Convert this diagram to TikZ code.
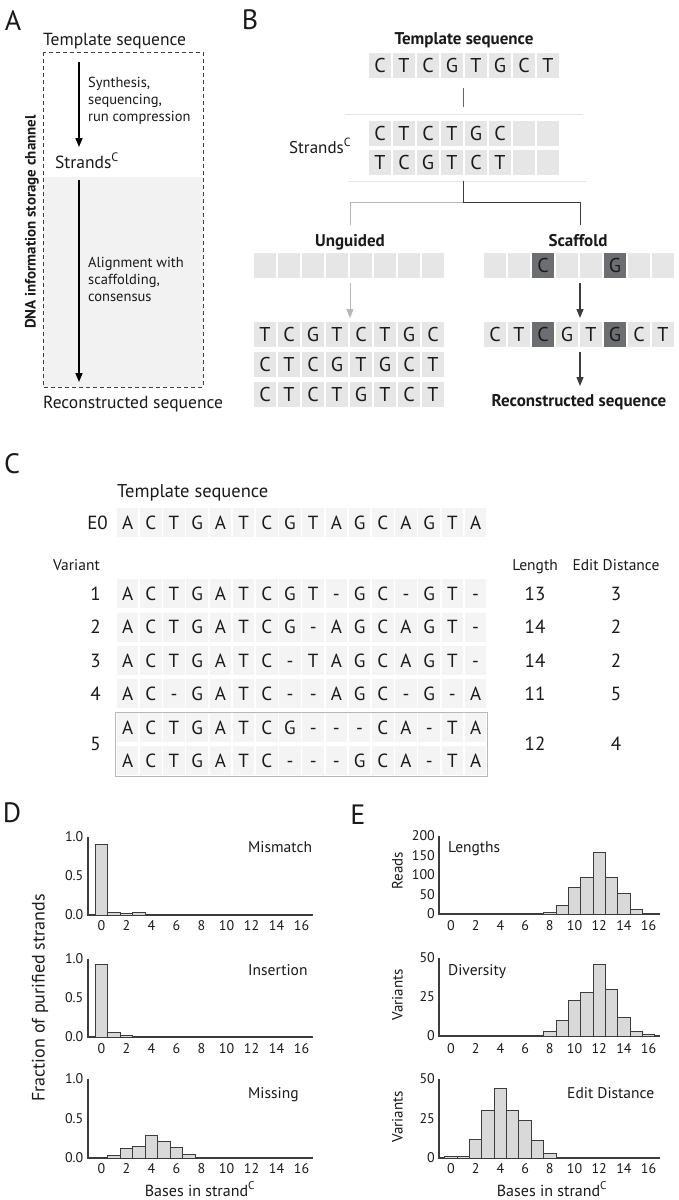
\documentclass[tikz,border=0pt]{standalone}
\usepackage{fontspec}
\setmainfont{PT Sans}
\usetikzlibrary{arrows.meta}
\definecolor{cellB}{HTML}{E6E6E6}
\definecolor{cellC}{HTML}{F4F4F4}
\definecolor{darkcell}{HTML}{6D6E71}
\definecolor{shadeA}{HTML}{F2F2F2}
\definecolor{lightline}{HTML}{B8B8B8}
\definecolor{sepline}{HTML}{E4E4E4}
\definecolor{axisgray}{HTML}{3C3C3C}
\definecolor{barfill}{HTML}{D9D9D9}
\definecolor{txt}{HTML}{1A1A1A}
\newcommand{\myfs}[1]{\fontsize{#1pt}{#1pt}\selectfont}
\newcommand{\brow}[4]{\foreach \L [count=\i from 0] in {#4}{\node[cellb] (#1\i) at ({#2+24*\i},#3) {\L};}}
\newcommand{\browd}[4]{\foreach \L/\f [count=\i from 0] in {#4}{\node[cellb,fill=\f] (#1\i) at ({#2+24*\i},#3) {\L};}}
\newcommand{\crow}[3]{\foreach \L [count=\i from 0] in {#3}{\node[cellc] (#1\i) at ({127.6+23.2*\i},#2) {\L};}}
\newcommand{\xticks}[4]{\foreach \v in {0,2,...,16}{\node[ticklbl] (#4\v) at ({#1+#2*\v},#3) {\v};}}
\newcommand{\bars}[5]{\foreach \v/\h in {#5}{\draw[bar] ({#1+#2*(\v-0.5)},#3) rectangle ({#1+#2*(\v+0.5)},{#3-#4*\h});}}
\begin{document}
\begin{tikzpicture}[x=1pt,y=-1pt,
  every node/.style={text=txt},
  plabel/.style={font=\myfs{28}, inner sep=0pt},
  cellb/.style={fill=cellB, minimum width=22.5pt, minimum height=25pt, inner sep=0pt, text height=14pt, text depth=0pt, font=\myfs{20}},
  cellc/.style={fill=cellC, minimum width=21.7pt, minimum height=29pt, inner sep=0pt, text height=13pt, text depth=0pt, font=\myfs{19}},
  ctext/.style={inner sep=0pt, text height=13pt, text depth=0pt, font=\myfs{19}},
  ticklbl/.style={inner sep=0pt, text height=9.5pt, text depth=0pt, font=\myfs{14}},
  ttl/.style={inner sep=0pt, anchor=base west, font=\myfs{15.5}},
  atxt/.style={inner sep=0pt, anchor=base west, font=\myfs{14.5}},
  btitle/.style={inner sep=0pt, anchor=base, font=\bfseries\myfs{17}},
  axis/.style={draw=axisgray, line width=1.3pt},
  bar/.style={draw=axisgray, fill=barfill, line width=0.9pt},
  arr/.style={line width=1.5pt, draw=black, -{Triangle[length=9pt,width=7pt]}},
  darkconn/.style={draw=axisgray, line width=1pt},
  lightconn/.style={draw=lightline, line width=1pt},
  sep/.style={draw=sepline, line width=0.8pt},
]
\useasboundingbox (0,0) rectangle (678,1200);
\fill[white] (0,0) rectangle (678,1200);

% ---------------- Panel A ----------------
\node[plabel] (pA) at (13,21) {A};
\fill[shadeA] (43,177) rectangle (203,387);
\draw[draw=black!75, line width=0.8pt, dash pattern=on 4pt off 3pt] (43,52) rectangle (203,387);
\node[inner sep=0pt, anchor=base west, font=\myfs{17.5}] (aT) at (43,45) {Template sequence};
\node[inner sep=0pt, anchor=base west, font=\myfs{17.5}] (aS) at (55,168) {Strands\textsuperscript{C}};
\node[inner sep=0pt, anchor=base west, font=\myfs{17.5}] (aR) at (43,408) {Reconstructed sequence};
\coordinate (a1s) at (79,62); \coordinate (a1e) at (79,147);
\coordinate (a2s) at (79,180); \coordinate (a2e) at (79,382);
\draw[arr] (a1s) -- (a1e);
\draw[arr] (a2s) -- (a2e);
\node[atxt] (aL1) at (88,87) {Synthesis,};
\node[atxt] (aL2) at (88,104) {sequencing,};
\node[atxt] (aL3) at (88,121) {run compression};
\node[atxt] (aL4) at (88,267) {Alignment with};
\node[atxt] (aL5) at (88,284) {scaffolding,};
\node[atxt] (aL6) at (88,301) {consensus};
\node[rotate=90, inner sep=0pt, font=\bfseries\myfs{15}] (aV) at (32,222) {DNA information storage channel};

% ---------------- Panel B ----------------
\node[plabel] (pB) at (250,20) {B};
\node[btitle] (bT) at (464,44) {Template sequence};
\brow{bt}{380}{65.5}{C,T,C,G,T,G,C,T}
\coordinate (v1a) at (463,88); \coordinate (v1b) at (463,107);
\draw[darkconn, draw=black!60] (v1a) -- (v1b);
\coordinate (s1a) at (345,114); \coordinate (s1b) at (583,114);
\draw[sep] (s1a) -- (s1b);
\node[inner sep=0pt, anchor=base west, font=\myfs{17}] (bS) at (289,153) {Strands\textsuperscript{C}};
\brow{bs}{380}{133.5}{C,T,C,T,G,C,{},{}}
\brow{bu}{380}{162.5}{T,C,G,T,C,T,{},{}}
\coordinate (s2a) at (348,181); \coordinate (s2b) at (587,181);
\draw[sep] (s2a) -- (s2b);
\coordinate (t0) at (463,181); \coordinate (t1) at (463,202);
\coordinate (tl) at (350,225); \coordinate (tr) at (580,225);
\draw[lightconn] (t1) -| (tl);
\draw[darkconn] (t0) -- (t1) -| (tr);
\node[btitle] (bUg) at (350,246) {Unguided};
\node[btitle] (bSc) at (578,246) {Scaffold};
\brow{ug}{265}{265}{{},{},{},{},{},{},{},{}}
\browd{sc}{495}{265}{{}/cellB,{}/cellB,C/darkcell,{}/cellB,{}/cellB,G/darkcell,{}/cellB,{}/cellB}
\coordinate (ua1) at (350,283); \coordinate (ua2) at (350,318);
\coordinate (sa1) at (580,283); \coordinate (sa2) at (580,318);
\draw[arr, draw=lightline, line width=1pt] (ua1) -- (ua2);
\draw[arr, draw=axisgray, line width=1.2pt] (sa1) -- (sa2);
\brow{ga}{265}{334.5}{T,C,G,T,C,T,G,C}
\brow{gb}{265}{364.5}{C,T,C,G,T,G,C,T}
\brow{gc}{265}{394.5}{C,T,C,T,G,T,C,T}
\browd{sr}{495}{334.5}{C/cellB,T/cellB,C/darkcell,G/cellB,T/cellB,G/darkcell,C/cellB,T/cellB}
\coordinate (ra1) at (580,352); \coordinate (ra2) at (580,386);
\draw[arr, draw=axisgray, line width=1.2pt] (ra1) -- (ra2);
\node[btitle] (bR) at (579,406) {Reconstructed sequence};

% ---------------- Panel C ----------------
\node[plabel] (pC) at (12,464) {C};
\node[inner sep=0pt, anchor=base west, font=\myfs{18.5}] (cT) at (117,497) {Template sequence};
\node[ctext, anchor=east] (cE0) at (108,522.8) {E0};
\crow{e}{522.8}{A,C,T,G,A,T,C,G,T,A,G,C,A,G,T,A}
\node[inner sep=0pt, anchor=base west, font=\myfs{15.5}] (cVar) at (53,570) {Variant};
\node[inner sep=0pt, anchor=base, font=\myfs{15.5}] (cLen) at (535,570) {Length};
\node[inner sep=0pt, anchor=base, font=\myfs{15.5}] (cEd) at (616,570) {Edit Distance};
\crow{ra}{593.8}{A,C,T,G,A,T,C,G,T,-,G,C,-,G,T,-}
\crow{rb}{627.2}{A,C,T,G,A,T,C,G,-,A,G,C,A,G,T,-}
\crow{rc}{660.5}{A,C,T,G,A,T,C,-,T,A,G,C,A,G,T,-}
\crow{rd}{693.8}{A,C,-,G,A,T,C,-,-,A,G,C,-,G,-,A}
\crow{re}{727.5}{A,C,T,G,A,T,C,G,-,-,-,C,A,-,T,A}
\crow{rf}{760.5}{A,C,T,G,A,T,C,-,-,-,G,C,A,-,T,A}
\draw[draw=lightline, line width=0.8pt] (115.5,712) rectangle (487.5,776);
\foreach \n/\y/\l/\d in {1/593.8/13/3, 2/627.2/14/2, 3/660.5/14/2, 4/693.8/11/5, 5/744/12/4}{
  \node[ctext, anchor=east] (cn\n) at (101,\y) {\n};
  \node[ctext] (cl\n) at (535,\y) {\l};
  \node[ctext] (cd\n) at (616,\y) {\d};
}

% ---------------- Panel D ----------------
\node[plabel] (pD) at (12,813) {D};
\node[rotate=90, inner sep=0pt, font=\myfs{18}] (dY) at (40,998) {Fraction of purified strands};
% chart D1
\draw[axis] (88,837) -- (88,915) -- (313,915);
\bars{101.5}{12.5}{915}{78}{0/0.90,1/0.035,2/0.02,3/0.028,4/0.008,5/0.004}
\node[ticklbl, anchor=east] (d1a) at (83.5,837) {1.0};
\node[ticklbl, anchor=east] (d1b) at (83.5,876) {0.5};
\node[ticklbl, anchor=east] (d1c) at (83.5,915) {0.0};
\xticks{101.5}{12.5}{926}{d1x}
\node[ttl] (d1t) at (248,852) {Mismatch};
% chart D2
\draw[axis] (88,959) -- (88,1037) -- (313,1037);
\bars{101.5}{12.5}{1037}{78}{0/0.93,1/0.06,2/0.02,3/0.004,4/0.01}
\node[ticklbl, anchor=east] (d2a) at (83.5,959) {1.0};
\node[ticklbl, anchor=east] (d2b) at (83.5,998) {0.5};
\node[ticklbl, anchor=east] (d2c) at (83.5,1037) {0.0};
\xticks{101.5}{12.5}{1048.5}{d2x}
\node[ttl] (d2t) at (248,975) {Insertion};
% chart D3
\draw[axis] (88,1079) -- (88,1158) -- (313,1158);
\bars{101.5}{12.5}{1158}{79}{0/0.006,1/0.03,2/0.12,3/0.15,4/0.28,5/0.21,6/0.13,7/0.05,8/0.01}
\node[ticklbl, anchor=east] (d3a) at (83.5,1079) {1.0};
\node[ticklbl, anchor=east] (d3b) at (83.5,1119) {0.5};
\node[ticklbl, anchor=east] (d3c) at (83.5,1158) {0.0};
\xticks{101.5}{12.5}{1169}{d3x}
\node[ttl] (d3t) at (248,1098) {Missing};
\node[inner sep=0pt, anchor=base, font=\myfs{16}] (dX) at (200,1196) {Bases in strand\textsuperscript{C}};

% ---------------- Panel E ----------------
\node[plabel] (pE) at (358,815) {E};
% chart E1
\draw[axis] (439,836) -- (439,914) -- (660,914);
\bars{451}{12.35}{914}{0.39}{8/5,9/21,10/69,11/93,12/159,13/93,14/54,15/11}
\foreach \t/\y in {200/836,150/855.5,100/875,50/894.5,0/914}{\node[ticklbl, anchor=east] (e1y\t) at (435,\y) {\t};}
\xticks{451}{12.35}{925.5}{e1x}
\node[ttl] (e1t) at (448,852) {Lengths};
\node[rotate=90, inner sep=0pt, font=\myfs{15}] (e1l) at (397.5,871) {Reads};
% chart E2
\draw[axis] (439,958) -- (439,1036) -- (660,1036);
\bars{451}{12.35}{1036}{1.56}{8/2.8,9/9.8,10/23,11/28,12/46,13/30,14/11.7,15/3,16/1}
\foreach \t/\y in {50/958,25/997,0/1036}{\node[ticklbl, anchor=east] (e2y\t) at (435,\y) {\t};}
\xticks{451}{12.35}{1048.5}{e2x}
\node[ttl] (e2t) at (448,975) {Diversity};
\node[rotate=90, inner sep=0pt, font=\myfs{15}] (e2l) at (397.5,995) {Variants};
% chart E3
\draw[axis] (439,1079) -- (439,1158) -- (660,1158);
\bars{451}{12.35}{1158}{1.58}{0/0.7,1/0.7,2/12,3/30,4/44,5/30,6/24,7/11,8/3}
\foreach \t/\y in {50/1079,25/1118.5,0/1158}{\node[ticklbl, anchor=east] (e3y\t) at (435,\y) {\t};}
\xticks{451}{12.35}{1169}{e3x}
\node[ttl] (e3t) at (567,1098) {Edit Distance};
\node[rotate=90, inner sep=0pt, font=\myfs{15}] (e3l) at (397.5,1117) {Variants};
\node[inner sep=0pt, anchor=base, font=\myfs{16}] (eX) at (552,1196) {Bases in strand\textsuperscript{C}};
\end{tikzpicture}
\end{document}
